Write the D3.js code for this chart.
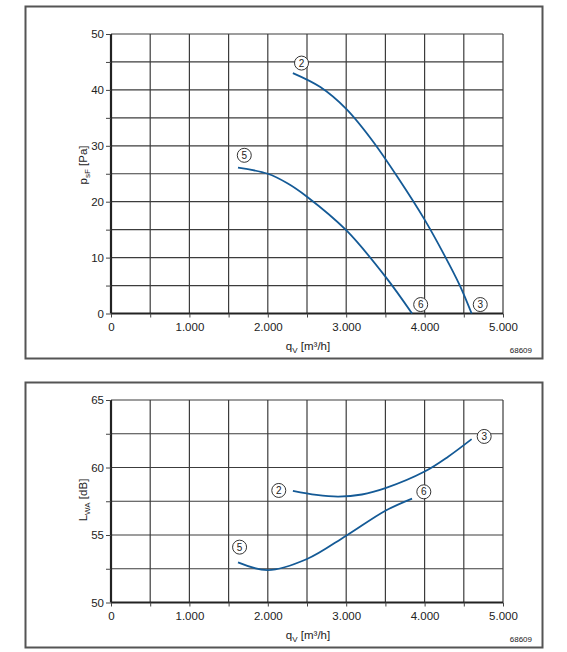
<!DOCTYPE html>
<html>
<head>
<meta charset="utf-8">
<script src="https://cdn.jsdelivr.net/npm/d3@7"></script>
<style>
  body { margin: 0; background: #fff; }
  text { font-family: "Liberation Sans", Arial, sans-serif; fill: #222; }
</style>
</head>
<body>
<script>
// flow values [m³/h]
var flowTicks = [0, 1000, 2000, 3000, 4000, 5000];
var flowGrid = [500, 1000, 1500, 2000, 2500, 3000, 3500, 4000, 4500, 5000];

// pressure chart
var pressureTicks = [0, 10, 20, 30, 40, 50];
var pressureGrid = [5, 10, 15, 20, 25, 30, 35, 40, 45, 50];
var pressureCurve23 = [[2320, 43.0], [2670, 40.5], [3000, 36.6], [3330, 31.0], [3665, 24.2], [4000, 16.8], [4250, 10.5], [4450, 5.0], [4600, 0]];
var pressureCurve56 = [[1620, 26.1], [2000, 25.0], [2250, 23.3], [2500, 20.9], [3000, 14.9], [3500, 6.6], [3840, 0]];
var pressureMarks = [{ label: "2", q: 2430, v: 44.8 }, { label: "5", q: 1700, v: 28.3 }, { label: "6", q: 3950, v: 1.6 }, { label: "3", q: 4710, v: 1.6 }];

// sound power chart
var soundTicks = [50, 55, 60, 65];
var soundGrid = [52.5, 55, 57.5, 60, 62.5, 65];
var soundCurve23 = [[2320, 58.27], [2620, 57.97], [2900, 57.85], [3200, 58.0], [3500, 58.47], [4000, 59.7], [4300, 60.8], [4600, 62.1]];
var soundCurve56 = [[1620, 52.97], [2000, 52.4], [2500, 53.22], [3000, 54.95], [3500, 56.8], [3840, 57.7]];
var soundMarks = [{ label: "2", q: 2140, v: 58.3 }, { label: "3", q: 4760, v: 62.3 }, { label: "6", q: 3990, v: 58.2 }, { label: "5", q: 1640, v: 54.1 }];

var chartId = "68609";

var svg = d3.select("body")
  .append("svg")
  .attr("width", 567)
  .attr("height", 652);

var locale = d3.formatLocale({ decimal: ",", thousands: ".", grouping: [3], currency: ["", ""] });
var flowFormat = locale.format(",d");

function drawChart(opt) {
  var x = d3.scaleLinear().domain([0, 5000]).range([111, 503]);
  var y = d3.scaleLinear().domain(opt.domain).range([opt.bottom, opt.top]);

  // frame
  svg.append("rect")
    .attr("x", 25.5).attr("y", opt.frameTop + 0.5)
    .attr("width", 517).attr("height", opt.frameBottom - opt.frameTop)
    .attr("fill", "none")
    .attr("stroke", "#555")
    .attr("stroke-width", 2);

  var g = svg.append("g");

  // grid
  g.selectAll(".vgrid")
    .data(opt.xGrid)
    .enter().append("line")
    .attr("x1", function (d) { return x(d); })
    .attr("x2", function (d) { return x(d); })
    .attr("y1", y(opt.domain[0]))
    .attr("y2", y(opt.domain[1]))
    .attr("stroke", "#3c3c3c")
    .attr("stroke-width", 1.2);

  g.selectAll(".hgrid")
    .data(opt.yGrid)
    .enter().append("line")
    .attr("x1", x(0))
    .attr("x2", x(5000))
    .attr("y1", function (d) { return y(d); })
    .attr("y2", function (d) { return y(d); })
    .attr("stroke", "#3c3c3c")
    .attr("stroke-width", 1.2);

  // axes
  var bottomAxis = d3.axisBottom(x)
    .tickValues(flowGrid.concat([0]))
    .tickSize(4)
    .tickFormat(function (d) { return flowTicks.indexOf(d) >= 0 ? flowFormat(d) : ""; });

  var leftAxis = d3.axisLeft(y)
    .tickValues(opt.yGrid.concat([opt.domain[0]]))
    .tickSize(5)
    .tickFormat(function (d) { return opt.yTicks.indexOf(d) >= 0 ? d : ""; });

  var bx = g.append("g")
    .attr("transform", "translate(0," + opt.bottom + ")")
    .call(bottomAxis);
  var ly = g.append("g")
    .attr("transform", "translate(111,0)")
    .call(leftAxis);

  [bx, ly].forEach(function (a) {
    a.select(".domain").attr("stroke", "#222").attr("stroke-width", 2.2);
    a.selectAll(".tick line").attr("stroke", "#444").attr("stroke-width", 1);
    a.selectAll("text")
      .style("font-size", "11.5px")
      .style("font-family", "Liberation Sans, Arial, sans-serif")
      .attr("fill", "#222");
  });
  bx.select(".domain").attr("d", "M" + x(0) + ",0H" + x(5000));
  ly.select(".domain").attr("d", "M0," + opt.bottom + "V" + opt.top);
  bx.selectAll("text").attr("dy", "0.95em");
  ly.selectAll("text").attr("x", -7);

  // curves
  var line = d3.line()
    .x(function (d) { return x(d[0]); })
    .y(function (d) { return y(d[1]); })
    .curve(d3.curveCatmullRom.alpha(0.5));

  g.selectAll(".curve")
    .data(opt.curves)
    .enter().append("path")
    .attr("d", line)
    .attr("fill", "none")
    .attr("stroke", "#145a96")
    .attr("stroke-width", 1.8);

  // circled curve numbers
  var mark = g.selectAll(".mark")
    .data(opt.marks)
    .enter().append("g")
    .attr("transform", function (d) { return "translate(" + x(d.q) + "," + y(d.v) + ")"; });
  mark.append("circle")
    .attr("r", 7)
    .attr("fill", "#fff")
    .attr("stroke", "#333")
    .attr("stroke-width", 1);
  mark.append("text")
    .attr("text-anchor", "middle")
    .attr("dy", "0.36em")
    .style("font-size", "10px")
    .text(function (d) { return d.label; });

  // x label
  var xl = svg.append("text")
    .attr("x", 308)
    .attr("y", opt.frameBottom - 8)
    .attr("text-anchor", "middle")
    .style("font-size", "11.5px");
  xl.append("tspan").text("q");
  xl.append("tspan").attr("dy", 3).style("font-size", "8px").text("V");
  xl.append("tspan").attr("dy", -3).text(" [m³/h]");

  // y label
  var yl = svg.append("text")
    .attr("transform", "translate(87," + opt.labelY + ") rotate(-90)")
    .attr("text-anchor", "middle")
    .style("font-size", "11.5px");
  yl.append("tspan").text(opt.yName[0]);
  yl.append("tspan").attr("dy", 3).style("font-size", "8px").text(opt.yName[1]);
  yl.append("tspan").attr("dy", -3).text(opt.yName[2]);

  // chart id
  svg.append("text")
    .attr("x", 532)
    .attr("y", opt.frameBottom - 5)
    .attr("text-anchor", "end")
    .style("font-size", "8px")
    .text(chartId);
}

drawChart({
  domain: [0, 50], top: 34, bottom: 313.5, frameTop: 6, frameBottom: 358,
  xGrid: flowGrid, yGrid: pressureGrid, yTicks: pressureTicks,
  curves: [pressureCurve23, pressureCurve56], marks: pressureMarks,
  yName: ["p", "sF", " [Pa]"], labelY: 165
});

drawChart({
  domain: [50, 65], top: 400, bottom: 602.5, frameTop: 382, frameBottom: 647,
  xGrid: flowGrid, yGrid: soundGrid, yTicks: soundTicks,
  curves: [soundCurve23, soundCurve56], marks: soundMarks,
  yName: ["L", "WA", " [dB]"], labelY: 500
});
</script>
</body>
</html>
